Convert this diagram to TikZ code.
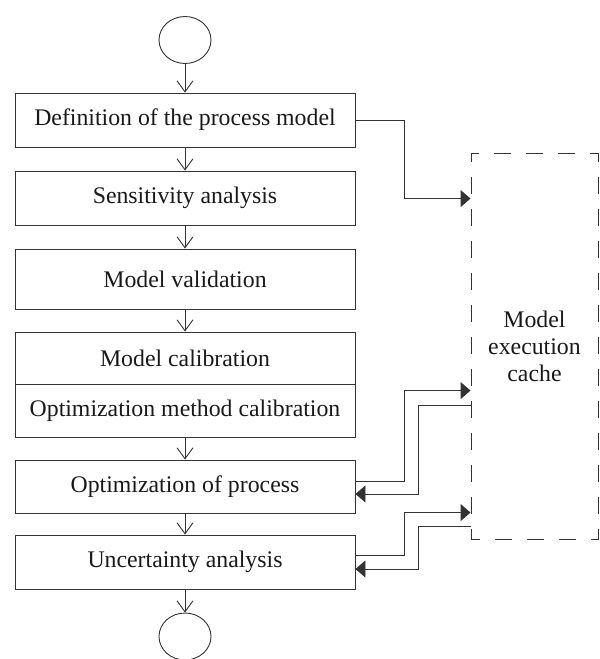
\documentclass[tikz,border=0pt]{standalone}
\usepackage{fontspec}
\setmainfont{Liberation Serif}
\usetikzlibrary{arrows.meta,shapes.geometric,calc}
\definecolor{ln}{HTML}{333333}
\tikzset{
  box/.style={draw=ln,line width=0.9pt,rectangle,minimum width=340pt,inner sep=0pt,font=\fontsize{23.8}{27}\selectfont,text=black!90},
  term/.style={draw=ln,line width=0.9pt,ellipse,minimum width=52pt,minimum height=47pt,inner sep=0pt},
  flow/.style={draw=ln,line width=0.9pt,-{Straight Barb[length=11pt,width=16pt,line width=0.9pt]}},
  conn/.style={draw=ln,line width=0.9pt,-{Triangle[length=10pt,width=17pt]},fill=none},
  cachebox/.style={draw=ln,line width=0.9pt,dash pattern=on 17pt off 15pt,dash phase=8pt,rectangle,minimum width=127pt,minimum height=386pt,inner sep=0pt,align=center,font=\fontsize{23.8}{27}\selectfont,text=black!90}
}
\begin{document}
\begin{tikzpicture}[x=1pt,y=-1pt]
\useasboundingbox (0,0) rectangle (600,659);
\node[term] (c1) at (185,40) {};
\node[box,minimum height=54pt] (b1) at (185,120) {Definition of the process model};
\node[box,minimum height=54pt] (b2) at (185,198) {Sensitivity analysis};
\node[box,minimum height=60pt] (b3) at (185,279) {Model validation};
\node[box,minimum height=52pt] (b4a) at (185,358) {Model calibration};
\node[box,minimum height=53pt] (b4b) at (185,410.5) {Optimization method calibration};
\node[box,minimum height=53pt] (b5) at (185,486.5) {Optimization of process};
\node[box,minimum height=54pt] (b6) at (185,562) {Uncertainty analysis};
\node[term] (c2) at (185,636.5) {};
\node[cachebox] (cache) at (534.5,346) {Model\\execution\\cache};

\draw[flow] (c1.south) -- (b1.north);
\draw[flow] (b1.south) -- (b2.north);
\draw[flow] (b2.south) -- (b3.north);
\draw[flow] (b3.south) -- (b4a.north);
\draw[flow] (b4b.south) -- (b5.north);
\draw[flow] (b5.south) -- (b6.north);
\draw[flow] (b6.south) -- (c2.north);

\draw[conn] (b1.east) -- ++(49,0) |- ($(cache.north west)+(0,46)$);
\draw[conn] ([yshift=5.5pt]b5.east) -- ++(49,0) |- ($(cache.north west)+(0,238)$);
\draw[conn] ($(cache.north west)+(0,253)$) -- ++(-52,0) |- ([yshift=-7.5pt]b5.east);
\draw[conn] ([yshift=7pt]b6.east) -- ++(49,0) |- ($(cache.north west)+(0,360)$);
\draw[conn] ($(cache.north west)+(0,374)$) -- ++(-52,0) |- ([yshift=-7pt]b6.east);
\end{tikzpicture}
\end{document}
